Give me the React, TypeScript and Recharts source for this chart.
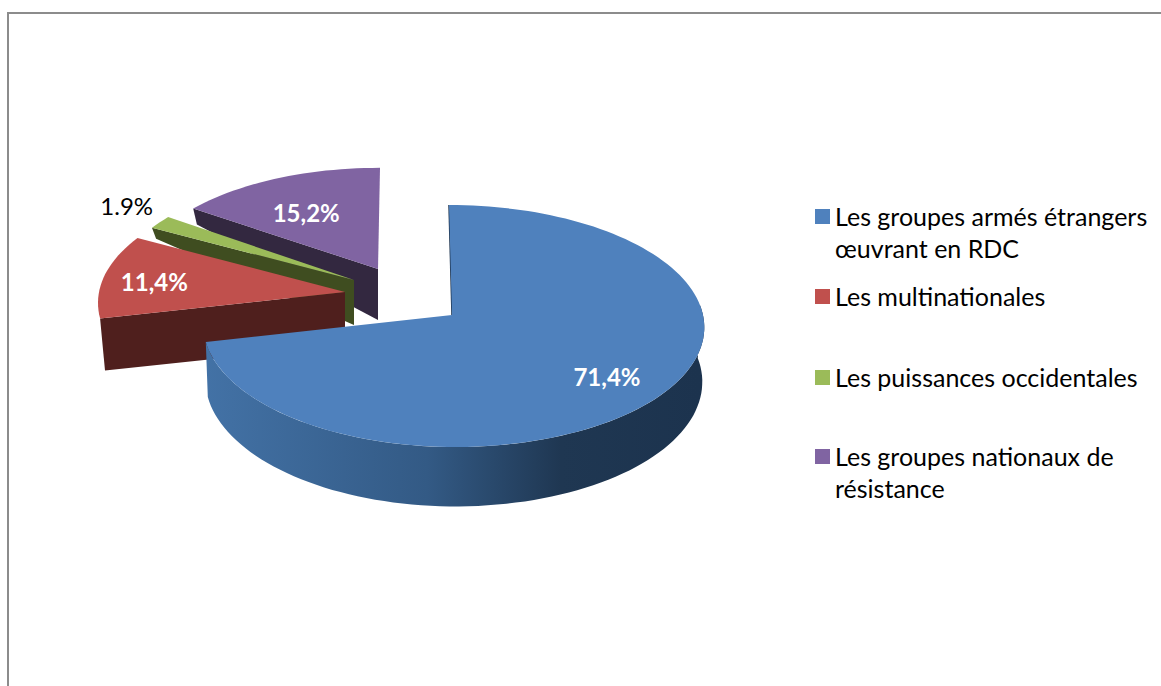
import React from 'react';
import { PieChart, Pie, Legend } from 'recharts';

const categories = [
  'Les groupes armés étrangers œuvrant en RDC',
  'Les multinationales',
  'Les puissances occidentales',
  'Les groupes nationaux de résistance',
];
const shares = [71.4, 11.4, 1.9, 15.2];
const shareLabels = ['71,4%', '11,4%', '1.9%', '15,2%'];

const topColors = ['#4f81bd', '#c0504d', '#9bbb59', '#8064a2'];
const wallColors = ['#1d344f', '#4f1f1d', '#3f4d20', '#332840'];
const labelColors = ['#fff', '#fff', '#000', '#fff'];
const labelWeights = [700, 700, 400, 700];

// explosion of each slice, in px from the pie centre
const sliceDx = [0, -107, -98, -74];
const sliceDy = [0, -23, -35, -46];
const sliceScale = [1, 0.987, 0.956, 0.92];
const stretchX = [1, 1.005, 1.01, 1.05];
const rightStretch = [1.012, 1, 1, 1];
const sliceSkew = [-3, 0, 0, 2];
const bottomScale = [0.992, 0.98, 0.98, 0.98];
const rimDepth = [54, 52, 11, 16];
const apexDepth = [52, 53, 45, 51];
const labelRadius = [0.75, 0.79, 1.18, 0.7];
const labelDy = [3, 2, -7, 8];
const legendGap = [0, 16, 49, 47];

const FONT = 'Lato, sans-serif';
const PERSP = 0.0909;
const RY_RATIO = 120 / 248;
const DEG = Math.PI / 180;

// source order is blue first, but blue has to be painted last
const pieData = categories
  .map((name, i) => ({ name, value: shares[i], fill: topColors[i], src: i }))
  .reverse();

const project = (cx: number, cy: number, r: number, deg: number, f: number, i: number) => {
  const u = Math.cos(deg * DEG) * f;
  const v = Math.sin(deg * DEG) * f;
  const w = 1 + PERSP * v;
  const k = sliceScale[i];
  const ox = cx + sliceDx[i];
  const oy = cy + sliceDy[i];
  const sx = stretchX[i] * (u > 0 ? rightStretch[i] : 1);
  return { x: ox + (r * k * sx * u) / w + sliceSkew[i] * v, y: oy - (r * RY_RATIO * k * v) / w, w, ox };
};

const arcPoints = (cx: number, cy: number, r: number, from: number, to: number, i: number) => {
  const out = [];
  const n = Math.max(4, Math.round(Math.abs(to - from) / 2));
  for (let s = 0; s <= n; s++) out.push(project(cx, cy, r, from + ((to - from) * s) / n, 1, i));
  return out;
};

const toPath = (pts: { x: number; y: number }[]) =>
  pts.map((p, n) => `${n ? 'L' : 'M'}${p.x.toFixed(1)} ${p.y.toFixed(1)}`).join(' ');

const SliceShape = (props: any) => {
  const { cx, cy, outerRadius, startAngle, endAngle } = props;
  const i = props.payload?.src ?? props.src;
  const from = Math.min(startAngle, endAngle);
  const to = Math.max(startAngle, endAngle);
  const apex = project(cx, cy, outerRadius, 0, 0, i);
  const arc = arcPoints(cx, cy, outerRadius, from, to, i);
  const edge = arc[arc.length - 1];
  const lower = (p: { x: number; y: number; w: number; ox: number }, d: number) => ({
    x: p.ox + (p.x - p.ox) * bottomScale[i],
    y: p.y + d / p.w,
  });

  const isBig = to - from > 180;
  const gradId = `rim-${i}`;
  let rim = null;
  if (isBig) {
    const front = arcPoints(cx, cy, outerRadius, from, 365, i);
    const back = front.map((p) => lower(p, rimDepth[i])).reverse();
    rim = (
      <>
        <defs>
          <linearGradient id={gradId} gradientUnits="userSpaceOnUse" x1={cx - outerRadius} x2={cx + outerRadius} y1="0" y2="0">
            <stop offset="0" stopColor="#4372a6" />
            <stop offset="0.45" stopColor="#335a85" />
            <stop offset="0.72" stopColor="#1f3752" />
            <stop offset="1" stopColor="#1c334e" />
          </linearGradient>
        </defs>
        <path d={`${toPath(front)} ${toPath(back).replace('M', 'L')} Z`} fill={`url(#${gradId})`} />
        <path d={`M${edge.x} ${edge.y} L${apex.x} ${apex.y}`} stroke={wallColors[i]} strokeWidth={1.5} fill="none" />
      </>
    );
  }

  const radialWall = !isBig ? (
    <path
      d={toPath([
        edge,
        { x: apex.x, y: apex.y },
        { x: apex.x, y: apex.y + apexDepth[i] },
        lower(edge, rimDepth[i] * edge.w),
      ]) + ' Z'}
      fill={wallColors[i]}
    />
  ) : null;

  return (
    <g>
      {radialWall}
      {rim}
      <path d={`M${apex.x} ${apex.y} ${toPath(arc).replace('M', 'L')} Z`} fill={topColors[i]} />
    </g>
  );
};

const sliceLabel = (props: any) => {
  const { cx, cy, outerRadius, midAngle } = props;
  const i = props.payload?.src ?? props.src;
  const p = project(cx, cy, outerRadius, midAngle, labelRadius[i], i);
  return (
    <text
      x={p.x}
      y={p.y + labelDy[i]}
      textAnchor="middle"
      dominantBaseline="central"
      fontFamily={FONT}
      fontSize={24}
      fontWeight={labelWeights[i]}
      fill={labelColors[i]}
    >
      {shareLabels[i]}
    </text>
  );
};

const LegendList = ({ payload }: any) => (
  <div style={{ fontFamily: FONT, fontSize: 25, lineHeight: '32px', color: '#000' }}>
    {[...(payload ?? [])].reverse().map((item: any, n: number) => (
      <div key={item.value} style={{ position: 'relative', paddingLeft: 20, marginTop: legendGap[n], width: 322, textAlign: 'left' }}>
        <span style={{ position: 'absolute', left: 0, top: 9, width: 15, height: 15, background: topColors[n] }} />
        {item.value}
      </div>
    ))}
  </div>
);

export default function App() {
  return (
    <div style={{ position: 'absolute', left: 0, top: 0, width: 1161, height: 686, overflow: 'hidden', background: '#fff' }}>
      <div
        style={{
          position: 'absolute',
          left: 7,
          top: 12,
          width: 1154,
          height: 674,
          borderLeft: '2px solid #8c8c8c',
          borderTop: '2px solid #8c8c8c',
          boxSizing: 'border-box',
        }}
      />
      <PieChart width={1161} height={686} margin={{ top: 0, right: 0, bottom: 0, left: 0 }}>
        <Pie
          data={pieData}
          dataKey="value"
          nameKey="name"
          cx={452}
          cy={315}
          outerRadius={248}
          startAngle={90}
          endAngle={450}
          stroke="none"
          labelLine={false}
          label={sliceLabel}
          shape={SliceShape}
          isAnimationActive={false}
        />
        <Legend
          content={LegendList}
          itemSorter={null}
          wrapperStyle={{ position: 'absolute', left: 815, top: 200, width: 340, bottom: 'auto', right: 'auto' }}
        />
      </PieChart>
    </div>
  );
}
